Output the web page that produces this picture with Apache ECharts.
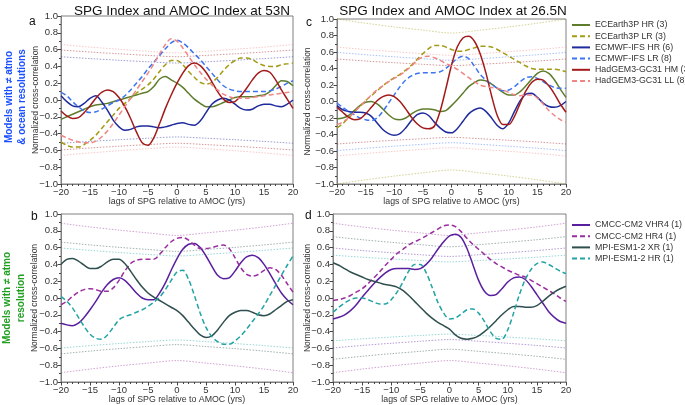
<!DOCTYPE html>
<html>
<head>
<meta charset="utf-8">
<script src="https://cdn.jsdelivr.net/npm/echarts@6/dist/echarts.min.js"></script>
<style>html,body{margin:0;padding:0;background:#fff}#c{width:685px;height:405px}</style>
</head>
<body>
<div id="c"></div>
<script>
// ---------- DATA ----------
const LAGS = [-20,-19,-18,-17,-16,-15,-14,-13,-12,-11,-10,-9,-8,-7,-6,-5,-4,-3,-2,-1,0,1,2,3,4,5,6,7,8,9,10,11,12,13,14,15,16,17,18,19,20];
const SIG_LAGS = [-20,-15,-10,-5,0,5,10,15,20];

const TITLE_53N = 'SPG Index and AMOC Index at 53N';
const TITLE_26N = 'SPG Index and AMOC Index at 26.5N';
const X_NAME = 'lags of SPG relative to AMOC (yrs)';
const Y_NAME = 'Normalized cross-correlation';

const NAMES_TOP = ['ECEarth3P HR (3)','ECEarth3P LR (3)','ECMWF-IFS HR (6)','ECMWF-IFS LR (8)','HadGEM3-GC31 HM (3)','HadGEM3-GC31 LL (8)'];
const NAMES_BOT = ['CMCC-CM2 VHR4 (1)','CMCC-CM2 HR4 (1)','MPI-ESM1-2 XR (1)','MPI-ESM1-2 HR (1)'];

// Panel a (53N)
const A_ECE_HR = [-0.23,-0.20,-0.17,-0.14,-0.11,-0.08,-0.06,-0.05,-0.04,-0.02,0.00,0.02,0.04,0.06,0.08,0.10,0.16,0.25,0.28,0.24,0.20,0.15,0.08,0.01,-0.04,-0.08,-0.08,-0.06,-0.03,0.00,0.03,0.04,0.04,0.04,0.05,0.06,0.10,0.17,0.23,0.22,0.17];
const A_ECE_LR = [-0.50,-0.54,-0.56,-0.56,-0.53,-0.48,-0.42,-0.34,-0.26,-0.18,-0.10,-0.04,0.02,0.08,0.13,0.18,0.25,0.34,0.42,0.47,0.47,0.42,0.34,0.27,0.21,0.19,0.21,0.27,0.35,0.42,0.47,0.50,0.50,0.48,0.44,0.41,0.40,0.40,0.42,0.43,0.44];
const A_IFS_HR = [0.05,-0.02,-0.07,-0.08,-0.04,0.02,0.05,-0.02,-0.12,-0.24,-0.32,-0.36,-0.35,-0.32,-0.31,-0.31,-0.32,-0.33,-0.32,-0.30,-0.28,-0.27,-0.29,-0.30,-0.25,-0.15,-0.05,0.00,0.02,0.00,-0.05,-0.10,-0.12,-0.11,-0.07,-0.05,-0.05,-0.07,-0.08,-0.05,0.00];
const A_IFS_LR = [0.09,0.05,-0.02,-0.08,-0.13,-0.15,-0.14,-0.11,-0.07,-0.03,0.00,0.05,0.12,0.20,0.28,0.37,0.45,0.53,0.61,0.68,0.71,0.68,0.62,0.55,0.48,0.40,0.32,0.24,0.17,0.13,0.11,0.10,0.10,0.10,0.10,0.10,0.11,0.13,0.16,0.20,0.23];
const A_HG_HM = [-0.13,-0.19,-0.22,-0.21,-0.15,-0.07,0.02,0.09,0.12,0.10,0.03,-0.08,-0.22,-0.38,-0.51,-0.54,-0.45,-0.28,-0.10,0.06,0.20,0.32,0.41,0.44,0.41,0.33,0.22,0.10,0.01,-0.03,-0.02,0.05,0.14,0.24,0.32,0.35,0.33,0.24,0.12,0.01,-0.10];
const A_HG_LL = [-0.42,-0.45,-0.48,-0.50,-0.51,-0.51,-0.49,-0.44,-0.37,-0.28,-0.18,-0.08,0.02,0.12,0.22,0.32,0.43,0.55,0.66,0.73,0.70,0.62,0.52,0.42,0.33,0.25,0.18,0.12,0.07,0.04,0.02,0.02,0.02,0.03,0.04,0.05,0.06,0.07,0.08,0.09,0.10];
// significance levels, panel a
const A_SIG_LL_UP = [0.66,0.63,0.604,0.58,0.56,0.58,0.604,0.63,0.66];
const A_SIG_LL_LO = [-0.66,-0.63,-0.604,-0.58,-0.56,-0.58,-0.604,-0.63,-0.66];
const A_SIG_HM_UP = [0.595,0.571,0.55,0.531,0.515,0.531,0.55,0.571,0.595];
const A_SIG_HM_LO = [-0.595,-0.571,-0.55,-0.531,-0.515,-0.531,-0.55,-0.571,-0.595];
const A_SIG_IFS_UP = [0.515,0.493,0.473,0.455,0.44,0.455,0.473,0.493,0.515];
const A_SIG_IFS_LO = [-0.515,-0.493,-0.473,-0.455,-0.44,-0.455,-0.473,-0.493,-0.515];

// Panel c (26.5N)
const C_ECE_HR = [-0.21,-0.20,-0.17,-0.11,-0.05,-0.01,0.00,-0.03,-0.09,-0.16,-0.21,-0.22,-0.20,-0.15,-0.11,-0.09,-0.09,-0.10,-0.12,-0.11,-0.05,0.02,0.10,0.18,0.23,0.26,0.25,0.21,0.16,0.11,0.08,0.08,0.12,0.19,0.27,0.34,0.37,0.34,0.26,0.15,0.05];
const C_ECE_LR = [-0.32,-0.27,-0.20,-0.13,-0.06,0.01,0.07,0.13,0.19,0.24,0.29,0.33,0.38,0.44,0.51,0.58,0.64,0.68,0.68,0.66,0.63,0.61,0.61,0.63,0.65,0.67,0.67,0.66,0.63,0.59,0.55,0.51,0.47,0.43,0.40,0.39,0.39,0.39,0.39,0.38,0.36];
const C_IFS_HR = [-0.05,-0.10,-0.12,-0.13,-0.13,-0.14,-0.18,-0.26,-0.34,-0.39,-0.41,-0.39,-0.32,-0.23,-0.16,-0.14,-0.17,-0.25,-0.32,-0.37,-0.38,-0.33,-0.24,-0.15,-0.10,-0.08,-0.12,-0.20,-0.29,-0.33,-0.26,-0.12,0.01,0.09,0.10,0.05,-0.02,-0.06,-0.07,-0.05,0.00];
const C_IFS_LR = [-0.02,-0.07,-0.12,-0.16,-0.20,-0.22,-0.23,-0.20,-0.12,-0.02,0.08,0.18,0.26,0.31,0.34,0.35,0.35,0.35,0.36,0.40,0.46,0.52,0.55,0.52,0.43,0.33,0.26,0.21,0.16,0.13,0.14,0.18,0.24,0.29,0.30,0.28,0.24,0.20,0.17,0.16,0.16];
const C_HG_HM = [-0.07,-0.13,-0.19,-0.22,-0.21,-0.15,-0.07,0.01,0.06,0.08,0.06,0.00,-0.09,-0.19,-0.27,-0.32,-0.33,-0.30,-0.12,0.15,0.44,0.66,0.77,0.79,0.73,0.58,0.35,0.07,-0.17,-0.28,-0.28,-0.18,-0.02,0.13,0.23,0.27,0.26,0.19,0.09,-0.03,-0.13];
const C_HG_LL = [-0.28,-0.25,-0.20,-0.13,-0.06,0.01,0.08,0.14,0.19,0.24,0.28,0.32,0.37,0.43,0.50,0.54,0.55,0.53,0.50,0.46,0.43,0.39,0.34,0.29,0.24,0.20,0.18,0.17,0.16,0.14,0.11,0.08,0.07,0.08,0.08,0.04,-0.03,-0.11,-0.17,-0.22,-0.25];
const C_SIG_ECE_UP = [1.0,0.949,0.904,0.865,0.83,0.865,0.904,0.949,1.0];
const C_SIG_ECE_LO = [-1.0,-0.949,-0.904,-0.865,-0.83,-0.865,-0.904,-0.949,-1.0];
const C_SIG_LL_UP = [0.66,0.63,0.604,0.58,0.56,0.58,0.604,0.63,0.66];
const C_SIG_LL_LO = [-0.66,-0.63,-0.604,-0.58,-0.56,-0.58,-0.604,-0.63,-0.66];
const C_SIG_IFS_UP = [0.595,0.567,0.542,0.519,0.50,0.519,0.542,0.567,0.595];
const C_SIG_IFS_LO = [-0.595,-0.567,-0.542,-0.519,-0.50,-0.519,-0.542,-0.567,-0.595];
const C_SIG_HM_UP = [0.515,0.491,0.47,0.451,0.435,0.451,0.47,0.491,0.515];
const C_SIG_HM_LO = [-0.515,-0.491,-0.47,-0.451,-0.435,-0.451,-0.47,-0.491,-0.515];

// Panel b (53N)
const B_VHR4 = [-0.30,-0.32,-0.33,-0.30,-0.23,-0.14,-0.04,0.07,0.16,0.22,0.24,0.21,0.14,0.06,0.00,-0.02,-0.02,0.06,0.18,0.33,0.47,0.58,0.64,0.65,0.60,0.50,0.38,0.27,0.23,0.24,0.32,0.42,0.49,0.51,0.48,0.40,0.29,0.17,0.06,-0.02,-0.08];
const B_HR4 = [-0.08,-0.04,0.02,0.07,0.10,0.11,0.10,0.08,0.08,0.12,0.21,0.32,0.41,0.45,0.46,0.46,0.46,0.52,0.60,0.67,0.71,0.72,0.69,0.63,0.59,0.59,0.60,0.62,0.63,0.59,0.48,0.36,0.28,0.26,0.28,0.33,0.36,0.34,0.27,0.17,0.07];
const B_XR = [0.40,0.46,0.47,0.44,0.39,0.35,0.35,0.38,0.43,0.46,0.46,0.41,0.32,0.22,0.13,0.06,0.01,-0.03,-0.07,-0.11,-0.15,-0.21,-0.29,-0.37,-0.44,-0.47,-0.45,-0.38,-0.29,-0.21,-0.17,-0.15,-0.15,-0.17,-0.20,-0.21,-0.19,-0.14,-0.09,-0.04,-0.02];
const B_HR = [0.02,-0.04,-0.12,-0.23,-0.34,-0.43,-0.48,-0.49,-0.44,-0.35,-0.26,-0.22,-0.20,-0.17,-0.14,-0.10,-0.05,0.01,0.10,0.21,0.31,0.33,0.22,0.03,-0.18,-0.35,-0.46,-0.52,-0.55,-0.55,-0.51,-0.45,-0.37,-0.28,-0.19,-0.09,0.03,0.15,0.27,0.39,0.50];
const B_SIG_HR4_UP = [0.89,0.846,0.808,0.775,0.745,0.775,0.808,0.846,0.89];
const B_SIG_HR4_LO = [-0.89,-0.846,-0.808,-0.775,-0.745,-0.775,-0.808,-0.846,-0.89];
const B_SIG_XR_UP = [0.665,0.632,0.603,0.578,0.555,0.578,0.603,0.632,0.665];
const B_SIG_XR_LO = [-0.665,-0.632,-0.603,-0.578,-0.555,-0.578,-0.603,-0.632,-0.665];
const B_SIG_HR_UP = [0.595,0.567,0.542,0.519,0.50,0.519,0.542,0.567,0.595];
const B_SIG_HR_LO = [-0.595,-0.567,-0.542,-0.519,-0.50,-0.519,-0.542,-0.567,-0.595];

// Panel d (26.5N)
const D_VHR4 = [-0.25,-0.23,-0.20,-0.15,-0.08,0.01,0.09,0.17,0.24,0.30,0.34,0.35,0.35,0.35,0.34,0.35,0.40,0.48,0.58,0.67,0.74,0.76,0.72,0.59,0.40,0.21,0.08,0.03,0.04,0.11,0.19,0.24,0.25,0.22,0.14,0.04,-0.06,-0.16,-0.23,-0.28,-0.30];
const D_HR4 = [-0.03,-0.02,0.00,0.03,0.07,0.11,0.17,0.24,0.31,0.39,0.46,0.53,0.58,0.63,0.67,0.70,0.74,0.78,0.82,0.86,0.87,0.85,0.79,0.71,0.64,0.58,0.52,0.46,0.41,0.37,0.33,0.30,0.27,0.25,0.21,0.17,0.13,0.09,0.05,0.00,-0.04];
const D_XR = [0.42,0.39,0.35,0.31,0.28,0.25,0.22,0.20,0.18,0.16,0.15,0.13,0.09,0.03,-0.04,-0.11,-0.18,-0.24,-0.29,-0.33,-0.37,-0.44,-0.48,-0.49,-0.48,-0.45,-0.40,-0.34,-0.27,-0.20,-0.14,-0.10,-0.10,-0.11,-0.11,-0.09,-0.04,0.02,0.07,0.11,0.14];
const D_HR = [-0.17,-0.11,-0.06,-0.02,0.00,0.00,-0.02,-0.05,-0.07,-0.07,-0.02,0.07,0.19,0.32,0.40,0.40,0.30,0.13,-0.05,-0.18,-0.25,-0.24,-0.19,-0.14,-0.13,-0.18,-0.28,-0.40,-0.48,-0.49,-0.38,-0.18,0.04,0.22,0.34,0.41,0.43,0.40,0.36,0.32,0.29];
const D_SIG_HR4_UP = [0.89,0.846,0.808,0.775,0.745,0.775,0.808,0.846,0.89];
const D_SIG_HR4_LO = [-0.89,-0.846,-0.808,-0.775,-0.745,-0.775,-0.808,-0.846,-0.89];
const D_SIG_XR_UP = [0.73,0.694,0.663,0.635,0.61,0.635,0.663,0.694,0.73];
const D_SIG_XR_LO = [-0.73,-0.694,-0.663,-0.635,-0.61,-0.635,-0.663,-0.694,-0.73];
const D_SIG_VHR4_UP = [0.595,0.565,0.539,0.515,0.495,0.515,0.539,0.565,0.595];
const D_SIG_VHR4_LO = [-0.595,-0.565,-0.539,-0.515,-0.495,-0.515,-0.539,-0.565,-0.595];
const D_SIG_HR_UP = [0.51,0.486,0.465,0.446,0.43,0.446,0.465,0.486,0.51];
const D_SIG_HR_LO = [-0.51,-0.486,-0.465,-0.446,-0.43,-0.446,-0.465,-0.486,-0.51];

// ---------- STYLE ----------
const FONT = 'Liberation Sans';
const COL = {
  eceHR:'#5e7d2c', eceLR:'#a39b12', ifsHR:'#1f2a9c', ifsLR:'#3d74f0', hgHM:'#a31a1a', hgLL:'#f08585',
  vhr4:'#5a1f9e', hr4:'#9a2e9e', xr:'#2f4f4f', mpiHR:'#22a3a3'
};

function pairs(xs, ys){ return xs.map((x,i)=>[x, ys[i]]); }
function curve(name, gi, ys, color, dashed){
  return {name, type:'line', xAxisIndex:gi, yAxisIndex:gi, data:pairs(LAGS, ys), smooth:0.3,
    symbol:'none', showSymbol:false, z:3,
    lineStyle:{color, width:1.5, type: dashed ? [5,3] : 'solid'}, itemStyle:{color}};
}
function sig(gi, ys, color){
  return {type:'line', xAxisIndex:gi, yAxisIndex:gi, data:pairs(SIG_LAGS, ys), smooth:0.3,
    symbol:'none', silent:true, z:1, legendHoverLink:false,
    lineStyle:{color, width:1, type:[1.5,1.5], opacity:0.45}};
}

const fmt = v => { const s = Math.abs(v) < 1e-9 ? '0' : String(v); return s.replace('-', '\u2212'); };
const fmtY = v => { const s = (Math.abs(v) < 1e-9 ? 0 : v).toFixed(1); return s.replace('-', '\u2212'); };

const GRIDS = [
  {left:61, top:16, width:232, height:168},
  {left:337, top:19, width:229, height:165},
  {left:61, top:214, width:232, height:169},
  {left:333, top:214, width:233, height:168}
];
const Y_NAME_GAPS = [21, 25, 22, 21];

function xAxis(gi){
  return {type:'value', gridIndex:gi, min:-20, max:20, interval:5,
    axisLine:{show:true, onZero:false, lineStyle:{color:'#808080', width:1}},
    axisTick:{show:true, length:3.5, lineStyle:{color:'#444'}},
    minorTick:{show:true, splitNumber:5, length:2, lineStyle:{color:'#444'}},
    splitLine:{show:false},
    axisLabel:{fontFamily:FONT, fontSize:9.5, color:'#333', margin:3, formatter:fmt},
    name:X_NAME, nameLocation:'middle', nameGap:13, nameMoveOverlap:false,
    nameTextStyle:{fontFamily:FONT, fontSize:8.8, color:'#333'}};
}
function yAxis(gi){
  return {type:'value', gridIndex:gi, min:-1, max:1, interval:0.2,
    axisLine:{show:true, onZero:false, lineStyle:{color:'#808080', width:1}},
    axisTick:{show:true, length:3.5, lineStyle:{color:'#444'}},
    minorTick:{show:true, splitNumber:2, length:2, lineStyle:{color:'#444'}},
    splitLine:{show:false},
    axisLabel:{fontFamily:FONT, fontSize:9.5, color:'#333', margin:3, formatter:fmtY},
    name:Y_NAME, nameLocation:'middle', nameGap:Y_NAME_GAPS[gi], nameRotate:90, nameMoveOverlap:false,
    nameTextStyle:{fontFamily:FONT, fontSize:8.5, color:'#333'}};
}

const series = [
  sig(0, A_SIG_LL_UP, COL.hgLL), sig(0, A_SIG_LL_LO, COL.hgLL),
  sig(0, A_SIG_HM_UP, COL.hgHM), sig(0, A_SIG_HM_LO, COL.hgHM),
  sig(0, A_SIG_IFS_UP, COL.ifsHR), sig(0, A_SIG_IFS_LO, COL.ifsHR),
  sig(1, C_SIG_ECE_UP, COL.eceLR), sig(1, C_SIG_ECE_LO, COL.eceLR),
  sig(1, C_SIG_LL_UP, COL.hgLL), sig(1, C_SIG_LL_LO, COL.hgLL),
  sig(1, C_SIG_IFS_UP, COL.ifsLR), sig(1, C_SIG_IFS_LO, COL.ifsLR),
  sig(1, C_SIG_HM_UP, COL.hgHM), sig(1, C_SIG_HM_LO, COL.hgHM),
  sig(2, B_SIG_HR4_UP, COL.hr4), sig(2, B_SIG_HR4_LO, COL.hr4),
  sig(2, B_SIG_XR_UP, COL.xr), sig(2, B_SIG_XR_LO, COL.xr),
  sig(2, B_SIG_HR_UP, COL.mpiHR), sig(2, B_SIG_HR_LO, COL.mpiHR),
  sig(3, D_SIG_HR4_UP, COL.hr4), sig(3, D_SIG_HR4_LO, COL.hr4),
  sig(3, D_SIG_XR_UP, COL.xr), sig(3, D_SIG_XR_LO, COL.xr),
  sig(3, D_SIG_VHR4_UP, COL.vhr4), sig(3, D_SIG_VHR4_LO, COL.vhr4),
  sig(3, D_SIG_HR_UP, COL.mpiHR), sig(3, D_SIG_HR_LO, COL.mpiHR),
  curve(NAMES_TOP[0], 0, A_ECE_HR, COL.eceHR, false),
  curve(NAMES_TOP[1], 0, A_ECE_LR, COL.eceLR, true),
  curve(NAMES_TOP[2], 0, A_IFS_HR, COL.ifsHR, false),
  curve(NAMES_TOP[3], 0, A_IFS_LR, COL.ifsLR, true),
  curve(NAMES_TOP[4], 0, A_HG_HM, COL.hgHM, false),
  curve(NAMES_TOP[5], 0, A_HG_LL, COL.hgLL, true),
  curve(NAMES_TOP[0], 1, C_ECE_HR, COL.eceHR, false),
  curve(NAMES_TOP[1], 1, C_ECE_LR, COL.eceLR, true),
  curve(NAMES_TOP[2], 1, C_IFS_HR, COL.ifsHR, false),
  curve(NAMES_TOP[3], 1, C_IFS_LR, COL.ifsLR, true),
  curve(NAMES_TOP[4], 1, C_HG_HM, COL.hgHM, false),
  curve(NAMES_TOP[5], 1, C_HG_LL, COL.hgLL, true),
  curve(NAMES_BOT[0], 2, B_VHR4, COL.vhr4, false),
  curve(NAMES_BOT[1], 2, B_HR4, COL.hr4, true),
  curve(NAMES_BOT[2], 2, B_XR, COL.xr, false),
  curve(NAMES_BOT[3], 2, B_HR, COL.mpiHR, true),
  curve(NAMES_BOT[0], 3, D_VHR4, COL.vhr4, false),
  curve(NAMES_BOT[1], 3, D_HR4, COL.hr4, true),
  curve(NAMES_BOT[2], 3, D_XR, COL.xr, false),
  curve(NAMES_BOT[3], 3, D_HR, COL.mpiHR, true)
];

const legendCommon = {orient:'vertical', left:571, itemWidth:18, itemHeight:10, itemGap:1.2, padding:0,
  itemStyle:{opacity:0, borderWidth:0},
  textStyle:{fontFamily:FONT, fontSize:8.8, color:'#333', lineHeight:10}, selectedMode:false};

const option = {
  animation:false,
  backgroundColor:'#fff',
  title:[
    {text:TITLE_53N, left:177, top:-1, textAlign:'center', textStyle:{fontFamily:FONT, fontSize:13.5, fontWeight:'normal', color:'#111'}},
    {text:TITLE_26N, left:448, top:-1, textAlign:'center', textStyle:{fontFamily:FONT, fontSize:13.5, fontWeight:'normal', color:'#111'}}
  ],
  grid: GRIDS.map(g => Object.assign({show:true, borderColor:'#808080', borderWidth:1, backgroundColor:'transparent', containLabel:false}, g)),
  xAxis:[0,1,2,3].map(xAxis),
  yAxis:[0,1,2,3].map(yAxis),
  legend:[
    Object.assign({}, legendCommon, {top:20, data:NAMES_TOP}),
    Object.assign({}, legendCommon, {top:220, data:NAMES_BOT})
  ],
  graphic:[
    {type:'text', left:29, top:16, style:{text:'a', font:'12px "Liberation Sans"', fill:'#111'}},
    {type:'text', left:306, top:17, style:{text:'c', font:'12px "Liberation Sans"', fill:'#111'}},
    {type:'text', left:31, top:211, style:{text:'b', font:'12px "Liberation Sans"', fill:'#111'}},
    {type:'text', left:305, top:210, style:{text:'d', font:'12px "Liberation Sans"', fill:'#111'}},
    {type:'text', x:16, y:97, rotation:Math.PI/2,
      style:{text:'Models with \u2260 atmo\n& ocean resolutions', font:'bold 10px "Liberation Sans"', fill:'#1a50ff', align:'center', verticalAlign:'middle', lineHeight:13}},
    {type:'text', x:14, y:298, rotation:Math.PI/2,
      style:{text:'Models with \u2260 atmo\nresolution', font:'bold 10px "Liberation Sans"', fill:'#22a022', align:'center', verticalAlign:'middle', lineHeight:14}}
  ],
  series
};

const chart = echarts.init(document.getElementById('c'), null, {renderer:'canvas'});
chart.setOption(option);
</script>
</body>
</html>
